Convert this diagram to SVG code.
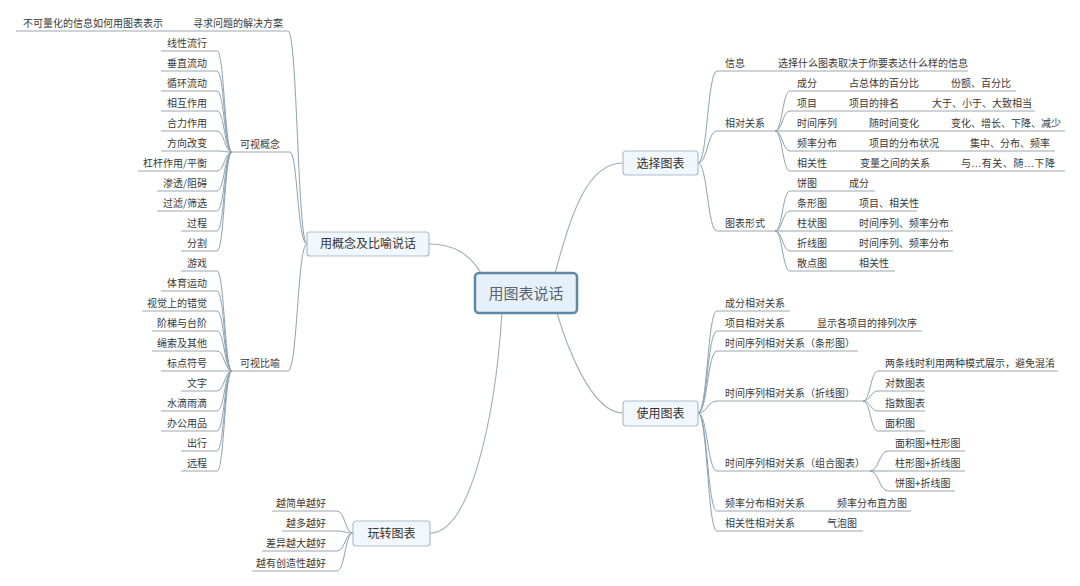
<svg xmlns="http://www.w3.org/2000/svg" width="1080" height="586" viewBox="0 0 1080 586">
<style>
.t{font-family:"Noto Sans CJK SC","Noto Sans",sans-serif;font-size:10px;fill:#3a3a3a}
.e{text-anchor:end}
.ul{stroke:#9aa6ae;stroke-width:1;fill:none}
.c{stroke:#8aa2b3;stroke-width:1;fill:none}
.m{stroke:#a3adb5;stroke-width:1.1;fill:none}
.n{fill:#f1f7fc;stroke:#aebfcc;stroke-width:1.2}
.nt{font-family:"Noto Sans CJK SC","Noto Sans",sans-serif;font-size:12px;fill:#333;text-anchor:middle}
</style>
<rect width="1080" height="586" fill="#ffffff"/>
<g id="connectors">
<path class="m" d="M481,273 C470,255 455,244 429,244"/>
<path class="m" d="M555,273 C570,220 585,163 623,163"/>
<path class="m" d="M557,313 C565,340 590,413 623,413"/>
<path class="m" d="M502,313 C495,420 470,533 430,533"/>
<path class="c" d="M307,244 C297.5,244 297.5,31 288,31"/>
<path class="c" d="M307,244 C297.5,244 297.5,152 290,152"/>
<path class="c" d="M307,244 C297.5,244 297.5,371 288,371"/>
<path class="c" d="M232,152 C224.5,152 224.5,51 217,51"/>
<path class="c" d="M232,152 C224.5,152 224.5,71 217,71"/>
<path class="c" d="M232,152 C224.5,152 224.5,91 217,91"/>
<path class="c" d="M232,152 C224.5,152 224.5,111 217,111"/>
<path class="c" d="M232,152 C224.5,152 224.5,131 217,131"/>
<path class="c" d="M232,152 C224.5,152 224.5,151 217,151"/>
<path class="c" d="M232,152 C224.5,152 224.5,171 217,171"/>
<path class="c" d="M232,152 C224.5,152 224.5,191 217,191"/>
<path class="c" d="M232,152 C224.5,152 224.5,211 217,211"/>
<path class="c" d="M232,152 C224.5,152 224.5,231 217,231"/>
<path class="c" d="M232,152 C224.5,152 224.5,251 217,251"/>
<path class="c" d="M232,371 C224.5,371 224.5,271 217,271"/>
<path class="c" d="M232,371 C224.5,371 224.5,291 217,291"/>
<path class="c" d="M232,371 C224.5,371 224.5,311 217,311"/>
<path class="c" d="M232,371 C224.5,371 224.5,331 217,331"/>
<path class="c" d="M232,371 C224.5,371 224.5,351 217,351"/>
<path class="c" d="M232,371 C224.5,371 224.5,371 217,371"/>
<path class="c" d="M232,371 C224.5,371 224.5,391 217,391"/>
<path class="c" d="M232,371 C224.5,371 224.5,411 217,411"/>
<path class="c" d="M232,371 C224.5,371 224.5,431 217,431"/>
<path class="c" d="M232,371 C224.5,371 224.5,451 217,451"/>
<path class="c" d="M232,371 C224.5,371 224.5,471 217,471"/>
<path class="c" d="M353,533 C345,533 345,511 337,511"/>
<path class="c" d="M353,533 C345,533 345,531 337,531"/>
<path class="c" d="M353,533 C345,533 345,551 337,551"/>
<path class="c" d="M353,533 C345,533 345,571 337,571"/>
<path class="c" d="M698,163 C707.5,163 707.5,71 717,71"/>
<path class="c" d="M698,163 C707.5,163 707.5,131 717,131"/>
<path class="c" d="M698,163 C707.5,163 707.5,231 717,231"/>
<path class="c" d="M775,131 C782.5,131 782.5,91 790,91"/>
<path class="c" d="M775,131 C782.5,131 782.5,111 790,111"/>
<path class="c" d="M775,131 C782.5,131 782.5,131 790,131"/>
<path class="c" d="M775,131 C782.5,131 782.5,151 790,151"/>
<path class="c" d="M775,131 C782.5,131 782.5,171 790,171"/>
<path class="c" d="M775,231 C782.5,231 782.5,191 790,191"/>
<path class="c" d="M775,231 C782.5,231 782.5,211 790,211"/>
<path class="c" d="M775,231 C782.5,231 782.5,231 790,231"/>
<path class="c" d="M775,231 C782.5,231 782.5,251 790,251"/>
<path class="c" d="M775,231 C782.5,231 782.5,271 790,271"/>
<path class="c" d="M698,413 C707.5,413 707.5,311 717,311"/>
<path class="c" d="M698,413 C707.5,413 707.5,331 717,331"/>
<path class="c" d="M698,413 C707.5,413 707.5,351 717,351"/>
<path class="c" d="M698,413 C707.5,413 707.5,401 717,401"/>
<path class="c" d="M698,413 C707.5,413 707.5,471 717,471"/>
<path class="c" d="M698,413 C707.5,413 707.5,511 717,511"/>
<path class="c" d="M698,413 C707.5,413 707.5,531 717,531"/>
<path class="c" d="M863,401 C870.5,401 870.5,371 878,371"/>
<path class="c" d="M863,401 C870.5,401 870.5,391 878,391"/>
<path class="c" d="M863,401 C870.5,401 870.5,411 878,411"/>
<path class="c" d="M863,401 C870.5,401 870.5,431 878,431"/>
<path class="c" d="M870,471 C879,471 879,451 888,451"/>
<path class="c" d="M870,471 C879,471 879,471 888,471"/>
<path class="c" d="M870,471 C879,471 879,491 888,491"/>
</g>
<g id="center"><rect x="475" y="273" width="102" height="40" rx="4" fill="#e6f0f9" stroke="#5f88a6" stroke-width="2.5"/><text class="nt" x="526" y="298.5" style="font-size:15px;fill:#5a6470">用图表说话</text></g>
<g id="n-concept"><rect class="n" x="307" y="232" width="122" height="24" rx="3"/><text class="nt" x="368" y="248">用概念及比喻说话</text></g>
<g id="n-choose"><rect class="n" x="623" y="151" width="75" height="24" rx="3"/><text class="nt" x="660.5" y="167.5">选择图表</text></g>
<g id="n-use"><rect class="n" x="623" y="401" width="75" height="25" rx="3"/><text class="nt" x="660.5" y="418">使用图表</text></g>
<g id="n-play"><rect class="n" x="353" y="521" width="77" height="25" rx="3"/><text class="nt" x="391.5" y="538">玩转图表</text></g>
<g id="n-seek"><line class="ul" x1="185" y1="31" x2="288" y2="31"/><text class="t" x="193" y="27">寻求问题的解决方案</text></g>
<g id="n-seek-1"><line class="ul" x1="16" y1="31" x2="185" y2="31"/><text class="t" x="23" y="27">不可量化的信息如何用图表表示</text></g>
<g id="n-vc"><line class="ul" x1="232" y1="152" x2="290" y2="152"/><text class="t" x="240" y="148">可视概念</text></g>
<g id="n-vm"><line class="ul" x1="232" y1="371" x2="288" y2="371"/><text class="t" x="240" y="367">可视比喻</text></g>
<g id="vc-1"><line class="ul" x1="161" y1="51" x2="217" y2="51"/><text class="t e" x="207" y="47">线性流行</text></g>
<g id="vc-2"><line class="ul" x1="161" y1="71" x2="217" y2="71"/><text class="t e" x="207" y="67">垂直流动</text></g>
<g id="vc-3"><line class="ul" x1="161" y1="91" x2="217" y2="91"/><text class="t e" x="207" y="87">循环流动</text></g>
<g id="vc-4"><line class="ul" x1="161" y1="111" x2="217" y2="111"/><text class="t e" x="207" y="107">相互作用</text></g>
<g id="vc-5"><line class="ul" x1="161" y1="131" x2="217" y2="131"/><text class="t e" x="207" y="127">合力作用</text></g>
<g id="vc-6"><line class="ul" x1="161" y1="151" x2="217" y2="151"/><text class="t e" x="207" y="147">方向改变</text></g>
<g id="vc-7"><line class="ul" x1="138" y1="171" x2="217" y2="171"/><text class="t e" x="207" y="167">杠杆作用/平衡</text></g>
<g id="vc-8"><line class="ul" x1="157" y1="191" x2="217" y2="191"/><text class="t e" x="207" y="187">渗透/阻碍</text></g>
<g id="vc-9"><line class="ul" x1="157" y1="211" x2="217" y2="211"/><text class="t e" x="207" y="207">过滤/筛选</text></g>
<g id="vc-10"><line class="ul" x1="181" y1="231" x2="217" y2="231"/><text class="t e" x="207" y="227">过程</text></g>
<g id="vc-11"><line class="ul" x1="181" y1="251" x2="217" y2="251"/><text class="t e" x="207" y="247">分割</text></g>
<g id="vm-1"><line class="ul" x1="181" y1="271" x2="217" y2="271"/><text class="t e" x="207" y="267">游戏</text></g>
<g id="vm-2"><line class="ul" x1="161" y1="291" x2="217" y2="291"/><text class="t e" x="207" y="287">体育运动</text></g>
<g id="vm-3"><line class="ul" x1="142" y1="311" x2="217" y2="311"/><text class="t e" x="207" y="307">视觉上的错觉</text></g>
<g id="vm-4"><line class="ul" x1="152" y1="331" x2="217" y2="331"/><text class="t e" x="207" y="327">阶梯与台阶</text></g>
<g id="vm-5"><line class="ul" x1="152" y1="351" x2="217" y2="351"/><text class="t e" x="207" y="347">绳索及其他</text></g>
<g id="vm-6"><line class="ul" x1="161" y1="371" x2="217" y2="371"/><text class="t e" x="207" y="367">标点符号</text></g>
<g id="vm-7"><line class="ul" x1="181" y1="391" x2="217" y2="391"/><text class="t e" x="207" y="387">文字</text></g>
<g id="vm-8"><line class="ul" x1="161" y1="411" x2="217" y2="411"/><text class="t e" x="207" y="407">水滴雨滴</text></g>
<g id="vm-9"><line class="ul" x1="161" y1="431" x2="217" y2="431"/><text class="t e" x="207" y="427">办公用品</text></g>
<g id="vm-10"><line class="ul" x1="181" y1="451" x2="217" y2="451"/><text class="t e" x="207" y="447">出行</text></g>
<g id="vm-11"><line class="ul" x1="181" y1="471" x2="217" y2="471"/><text class="t e" x="207" y="467">远程</text></g>
<g id="p-1"><line class="ul" x1="272" y1="511" x2="337" y2="511"/><text class="t e" x="326" y="507">越简单越好</text></g>
<g id="p-2"><line class="ul" x1="282" y1="531" x2="337" y2="531"/><text class="t e" x="326" y="527">越多越好</text></g>
<g id="p-3"><line class="ul" x1="262" y1="551" x2="337" y2="551"/><text class="t e" x="326" y="547">差异越大越好</text></g>
<g id="p-4"><line class="ul" x1="252" y1="571" x2="337" y2="571"/><text class="t e" x="326" y="567">越有创造性越好</text></g>
<g id="c-info"><line class="ul" x1="717" y1="71" x2="770" y2="71"/><text class="t" x="725" y="67">信息</text></g>
<g id="c-info-1"><line class="ul" x1="770" y1="71" x2="968" y2="71"/><text class="t" x="778" y="67">选择什么图表取决于你要表达什么样的信息</text></g>
<g id="c-rel"><line class="ul" x1="717" y1="131" x2="775" y2="131"/><text class="t" x="725" y="127">相对关系</text></g>
<g id="c-form"><line class="ul" x1="717" y1="231" x2="775" y2="231"/><text class="t" x="725" y="227">图表形式</text></g>
<g id="r-1"><line class="ul" x1="790" y1="91" x2="843" y2="91"/><text class="t" x="797" y="87">成分</text></g>
<g id="r-1a"><line class="ul" x1="843" y1="91" x2="943" y2="91"/><text class="t" x="849" y="87">占总体的百分比</text></g>
<g id="r-1b"><line class="ul" x1="943" y1="91" x2="1016" y2="91"/><text class="t" x="951" y="87">份额、百分比</text></g>
<g id="r-2"><line class="ul" x1="790" y1="111" x2="843" y2="111"/><text class="t" x="797" y="107">项目</text></g>
<g id="r-2a"><line class="ul" x1="843" y1="111" x2="925" y2="111"/><text class="t" x="849" y="107">项目的排名</text></g>
<g id="r-2b"><line class="ul" x1="925" y1="111" x2="1035" y2="111"/><text class="t" x="932" y="107">大于、小于、大致相当</text></g>
<g id="r-3"><line class="ul" x1="790" y1="131" x2="862" y2="131"/><text class="t" x="797" y="127">时间序列</text></g>
<g id="r-3a"><line class="ul" x1="862" y1="131" x2="943" y2="131"/><text class="t" x="869" y="127">随时间变化</text></g>
<g id="r-3b"><line class="ul" x1="943" y1="131" x2="1065" y2="131"/><text class="t" x="951" y="127">变化、增长、下降、减少</text></g>
<g id="r-4"><line class="ul" x1="790" y1="151" x2="862" y2="151"/><text class="t" x="797" y="147">频率分布</text></g>
<g id="r-4a"><line class="ul" x1="862" y1="151" x2="962" y2="151"/><text class="t" x="869" y="147">项目的分布状况</text></g>
<g id="r-4b"><line class="ul" x1="962" y1="151" x2="1055" y2="151"/><text class="t" x="970" y="147">集中、分布、频率</text></g>
<g id="r-5"><line class="ul" x1="790" y1="171" x2="853" y2="171"/><text class="t" x="797" y="167">相关性</text></g>
<g id="r-5a"><line class="ul" x1="853" y1="171" x2="953" y2="171"/><text class="t" x="860" y="167">变量之间的关系</text></g>
<g id="r-5b"><line class="ul" x1="953" y1="171" x2="1065" y2="171"/><text class="t" x="961" y="167" letter-spacing="0.6">与...有关、随...下降</text></g>
<g id="f-1"><line class="ul" x1="790" y1="191" x2="843" y2="191"/><text class="t" x="797" y="187">饼图</text></g>
<g id="f-1a"><line class="ul" x1="843" y1="191" x2="875" y2="191"/><text class="t" x="849" y="187">成分</text></g>
<g id="f-2"><line class="ul" x1="790" y1="211" x2="853" y2="211"/><text class="t" x="797" y="207">条形图</text></g>
<g id="f-2a"><line class="ul" x1="853" y1="211" x2="917" y2="211"/><text class="t" x="859" y="207">项目、相关性</text></g>
<g id="f-3"><line class="ul" x1="790" y1="231" x2="853" y2="231"/><text class="t" x="797" y="227">柱状图</text></g>
<g id="f-3a"><line class="ul" x1="853" y1="231" x2="953" y2="231"/><text class="t" x="859" y="227">时间序列、频率分布</text></g>
<g id="f-4"><line class="ul" x1="790" y1="251" x2="853" y2="251"/><text class="t" x="797" y="247">折线图</text></g>
<g id="f-4a"><line class="ul" x1="853" y1="251" x2="953" y2="251"/><text class="t" x="859" y="247">时间序列、频率分布</text></g>
<g id="f-5"><line class="ul" x1="790" y1="271" x2="853" y2="271"/><text class="t" x="797" y="267">散点图</text></g>
<g id="f-5a"><line class="ul" x1="853" y1="271" x2="895" y2="271"/><text class="t" x="859" y="267">相关性</text></g>
<g id="u-1"><line class="ul" x1="717" y1="311" x2="790" y2="311"/><text class="t" x="725" y="307">成分相对关系</text></g>
<g id="u-2"><line class="ul" x1="717" y1="331" x2="810" y2="331"/><text class="t" x="725" y="327">项目相对关系</text></g>
<g id="u-2a"><line class="ul" x1="810" y1="331" x2="922" y2="331"/><text class="t" x="817" y="327">显示各项目的排列次序</text></g>
<g id="u-3"><line class="ul" x1="717" y1="351" x2="858" y2="351"/><text class="t" x="725" y="347">时间序列相对关系（条形图）</text></g>
<g id="u-4"><line class="ul" x1="717" y1="401" x2="863" y2="401"/><text class="t" x="725" y="397">时间序列相对关系（折线图）</text></g>
<g id="u-4a"><line class="ul" x1="878" y1="371" x2="1058" y2="371"/><text class="t" x="885" y="367">两条线时利用两种模式展示，避免混淆</text></g>
<g id="u-4b"><line class="ul" x1="878" y1="391" x2="925" y2="391"/><text class="t" x="885" y="387">对数图表</text></g>
<g id="u-4c"><line class="ul" x1="878" y1="411" x2="925" y2="411"/><text class="t" x="885" y="407">指数图表</text></g>
<g id="u-4d"><line class="ul" x1="878" y1="431" x2="925" y2="431"/><text class="t" x="885" y="427">面积图</text></g>
<g id="u-5"><line class="ul" x1="717" y1="471" x2="870" y2="471"/><text class="t" x="725" y="467">时间序列相对关系（组合图表）</text></g>
<g id="u-5a"><line class="ul" x1="888" y1="451" x2="965" y2="451"/><text class="t" x="895" y="447">面积图+柱形图</text></g>
<g id="u-5b"><line class="ul" x1="888" y1="471" x2="965" y2="471"/><text class="t" x="895" y="467">柱形图+折线图</text></g>
<g id="u-5c"><line class="ul" x1="888" y1="491" x2="955" y2="491"/><text class="t" x="895" y="487">饼图+折线图</text></g>
<g id="u-6"><line class="ul" x1="717" y1="511" x2="830" y2="511"/><text class="t" x="725" y="507">频率分布相对关系</text></g>
<g id="u-6a"><line class="ul" x1="830" y1="511" x2="911" y2="511"/><text class="t" x="837" y="507">频率分布直方图</text></g>
<g id="u-7"><line class="ul" x1="717" y1="531" x2="820" y2="531"/><text class="t" x="725" y="527">相关性相对关系</text></g>
<g id="u-7a"><line class="ul" x1="820" y1="531" x2="863" y2="531"/><text class="t" x="827" y="527">气泡图</text></g>
</svg>
